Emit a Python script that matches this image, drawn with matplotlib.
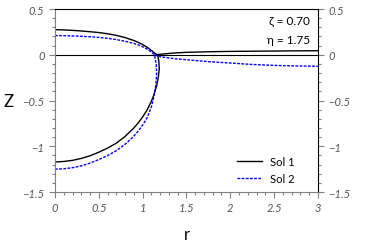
import matplotlib
matplotlib.use("Agg")
import matplotlib.pyplot as plt
from matplotlib.ticker import MultipleLocator, FixedLocator

# Sol 1 (black solid)
sol1_upper_r = [0.0, 0.1, 0.2, 0.3, 0.4, 0.5, 0.6, 0.7, 0.8, 0.9, 0.95, 1.0, 1.05, 1.1, 1.14, 1.16]
sol1_upper_z = [0.274, 0.272, 0.267, 0.260, 0.252, 0.243, 0.230, 0.212, 0.188, 0.156, 0.136, 0.112, 0.083, 0.048, 0.016, 0.002]
sol1_lower_r = [0.0, 0.1, 0.2, 0.3, 0.4, 0.5, 0.6, 0.7, 0.8, 0.9, 0.95, 1.0, 1.05, 1.1, 1.13, 1.16, 1.18, 1.19, 1.185, 1.17]
sol1_lower_z = [-1.172, -1.166, -1.154, -1.133, -1.104, -1.065, -1.020, -0.966, -0.892, -0.800, -0.744, -0.680, -0.604, -0.508, -0.435, -0.339, -0.238, -0.150, -0.070, 0.0]
sol1_right_r = [1.16, 1.25, 1.35, 1.5, 1.75, 2.0, 2.25, 2.5, 2.75, 3.0]
sol1_right_z = [0.002, 0.010, 0.019, 0.027, 0.033, 0.037, 0.039, 0.041, 0.043, 0.044]

# Sol 2 (blue dashed)
sol2_upper_r = [0.0, 0.1, 0.2, 0.3, 0.4, 0.5, 0.6, 0.7, 0.8, 0.9, 0.95, 1.0, 1.05, 1.1, 1.135]
sol2_upper_z = [0.210, 0.209, 0.206, 0.202, 0.197, 0.190, 0.180, 0.166, 0.148, 0.124, 0.108, 0.088, 0.063, 0.030, 0.0]
sol2_lower_r = [0.0, 0.1, 0.2, 0.3, 0.4, 0.5, 0.6, 0.7, 0.8, 0.9, 0.95, 1.0, 1.05, 1.1, 1.13, 1.15, 1.16, 1.155, 1.135]
sol2_lower_z = [-1.250, -1.246, -1.234, -1.214, -1.184, -1.145, -1.102, -1.048, -0.978, -0.889, -0.834, -0.769, -0.691, -0.570, -0.450, -0.330, -0.210, -0.100, 0.0]
sol2_right_r = [1.135, 1.2, 1.3, 1.4, 1.5, 1.75, 2.0, 2.25, 2.5, 2.75, 3.0]
sol2_right_z = [0.0, -0.020, -0.035, -0.046, -0.054, -0.075, -0.090, -0.106, -0.116, -0.122, -0.126]

x_ticks = [0, 0.5, 1, 1.5, 2, 2.5, 3]
x_labels = ["0", "0.5", "1", "1.5", "2", "2.5", "3"]
y_ticks = [0.5, 0, -0.5, -1, -1.5]
y_labels = ["0.5", "0", "\u22120.5", "\u22121", "\u22121.5"]

plt.rcParams['font.family'] = ['Lato', 'DejaVu Sans']

fig = plt.figure(figsize=(3.74, 2.51), dpi=100)
ax = fig.add_axes([0.147, 0.231, 0.703, 0.729])

gray = '#808080'
ax.axhline(0, color='black', lw=0.8, zorder=1)

l1, = ax.plot(sol1_upper_r, sol1_upper_z, color='black', lw=1.0, label='Sol 1')
ax.plot(sol1_lower_r, sol1_lower_z, color='black', lw=1.0)
ax.plot(sol1_right_r, sol1_right_z, color='black', lw=1.0)
l2, = ax.plot(sol2_upper_r, sol2_upper_z, color='blue', lw=1.0, ls=(0, (2, 1)), label='Sol 2')
ax.plot(sol2_lower_r, sol2_lower_z, color='blue', lw=1.0, ls=(0, (2, 1)))
ax.plot(sol2_right_r, sol2_right_z, color='blue', lw=1.0, ls=(0, (2, 1)))

ax.set_xlim(0, 3)
ax.set_ylim(-1.5, 0.5)

ax.xaxis.set_major_locator(FixedLocator(x_ticks))
ax.set_xticklabels(x_labels)
ax.yaxis.set_major_locator(FixedLocator(y_ticks))
ax.set_yticklabels(y_labels)
ax.xaxis.set_minor_locator(MultipleLocator(0.1))
ax.yaxis.set_minor_locator(MultipleLocator(0.1))

ax.tick_params(which='both', direction='out', color=gray, width=0.8,
               labelcolor='#555555', labelsize=8, left=True, right=True,
               labelright=True, labelleft=True, top=False, bottom=True)
ax.tick_params(which='major', length=4)
ax.tick_params(which='minor', length=2.5)
for lab in ax.get_xticklabels():
    lab.set_fontstyle('italic')
for t in ax.yaxis.get_major_ticks():
    t.label1.set_fontstyle('italic')
    t.label2.set_fontstyle('italic')

ax.spines['left'].set_color(gray)
ax.spines['bottom'].set_color(gray)
ax.spines['top'].set_color('black')
ax.spines['right'].set_color('black')
for s in ax.spines.values():
    s.set_linewidth(0.8)

ax.set_xlabel('r', fontsize=12, labelpad=9)
ax.set_ylabel('Z', fontsize=12, rotation=0, labelpad=10, va='center')

ax.text(0.97, 0.935, '\u03b6 = 0.70', transform=ax.transAxes, ha='right', va='center', fontsize=8.5)
ax.text(0.97, 0.835, '\u03b7 = 1.75', transform=ax.transAxes, ha='right', va='center', fontsize=8.5)

ax.legend(handles=[l1, l2], loc='lower right', frameon=False, fontsize=8,
          handlelength=2.2, handletextpad=0.7, labelspacing=0.6,
          borderaxespad=0.3, bbox_to_anchor=(0.94, 0.0))

fig.savefig('out.png', dpi=100)
